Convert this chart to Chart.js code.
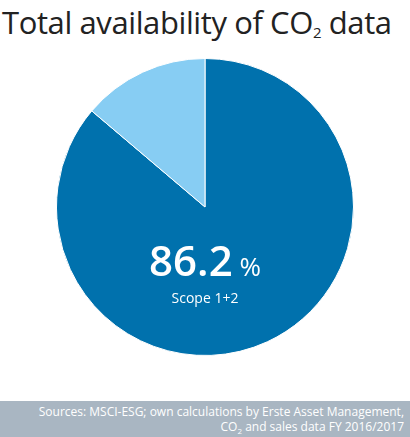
<!DOCTYPE html>
<html>
<head>
<meta charset="utf-8">
<script src="https://cdn.jsdelivr.net/npm/chart.js@4"></script>
<style>
body { margin:0; width:410px; height:437px; position:relative; background:#fff; font-family:"Open Sans", sans-serif; overflow:hidden; }
#title { position:absolute; left:2px; top:1px; font-size:31px; color:#222; white-space:nowrap; letter-spacing:-0.4px; }
#title sub { font-size:15px; vertical-align:-4px; }
#wrap { position:absolute; left:56px; top:58px; width:298px; height:298px; }
#center { position:absolute; left:0; width:410px; top:238px; text-align:center; color:#fff; pointer-events:none; }
#big { font-size:42px; line-height:44px; font-weight:600; }
#big span { font-size:26px; font-weight:400; }
#small { font-size:14px; }
#foot { position:absolute; left:0; top:401px; width:410px; height:36px; background:#a9b6c2; color:#fff; font-size:12px; text-align:right; box-sizing:border-box; padding:3px 6px 0 0; line-height:15px; }
#foot sub { font-size:8px; }
</style>
</head>
<body>
<div id="title">Total availability of CO<sub>2</sub> data</div>
<div id="wrap"><canvas id="pie"></canvas></div>
<div id="center"><div id="big">86.2<span> %</span></div><div id="small">Scope 1+2</div></div>
<div id="foot">Sources: MSCI-ESG; own calculations by Erste Asset Management,<br>CO<sub>2</sub> and sales data FY 2016/2017</div>
<script>
const labels = ["Available", "Not available"];
const values = [86.2, 13.8];
const colors = ["#0071ad", "#87cdf3"];

new Chart(document.getElementById("pie"), {
    type: "pie",
    data: {
        labels: labels,
        datasets: [{
            data: values,
            backgroundColor: colors,
            borderColor: "#ffffff",
            borderWidth: 1
        }]
    },
    options: {
        responsive: true,
        maintainAspectRatio: false,
        animation: false,
        plugins: { legend: { display: false }, tooltip: { enabled: false } }
    }
});
</script>
</body>
</html>
